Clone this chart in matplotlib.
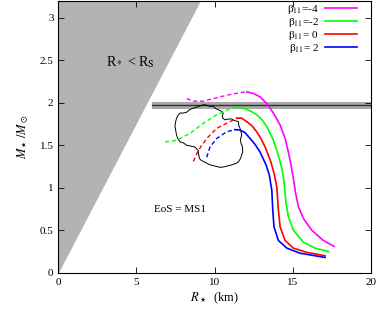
import numpy as np
import matplotlib
matplotlib.use('Agg')
from matplotlib import pyplot as plt

plt.rcParams['font.family'] = ['Liberation Serif', 'DejaVu Serif']
plt.rcParams['mathtext.fontset'] = 'stix'

# beta_11 = -4, -2, 0, 2 : unstable (dashed) and stable (solid) branches
labels = ['β$_{11}$=-4', 'β$_{11}$=-2', 'β$_{11}$= 0', 'β$_{11}$= 2']
colors = ['#ff00ff', '#00ff00', '#ff0000', '#0000ff']

dash_R = [
    [8.22, 8.64, 9.28, 9.92, 10.78, 11.63, 12.06],
    [6.83, 7.57, 8.43, 9.28, 10.14, 11.0, 11.45],
    [8.64, 8.96, 9.5, 10.14, 11.0, 11.45],
    [9.5, 9.71, 10.14, 10.78, 11.3],
]
dash_M = [
    [2.05, 2.02, 2.02, 2.05, 2.09, 2.12, 2.13],
    [1.54, 1.56, 1.64, 1.76, 1.86, 1.93, 1.95],
    [1.31, 1.44, 1.58, 1.70, 1.78, 1.82],
    [1.36, 1.48, 1.58, 1.66, 1.685],
]
solid_R = [
    [12.06, 12.5, 12.92, 13.35, 13.77, 14.2, 14.52, 14.73, 14.9, 15.01, 15.1, 15.2,
     15.37, 15.69, 16.23, 16.97, 17.66],
    [11.45, 11.96, 12.35, 12.7, 13.05, 13.35, 13.77, 14.09, 14.31, 14.4, 14.46, 14.58,
     14.73, 15.05, 15.69, 16.44, 17.3],
    [11.45, 11.74, 12.06, 12.4, 12.7, 13.0, 13.24, 13.6, 13.84, 13.99, 14.09, 14.2,
     14.52, 15.05, 15.91, 17.08],
    [11.3, 11.63, 11.95, 12.28, 12.6, 12.92, 13.3, 13.51, 13.67, 13.73, 13.81, 14.09,
     14.63, 15.48, 17.08],
]
solid_M = [
    [2.13, 2.11, 2.07, 1.99, 1.88, 1.74, 1.58, 1.42, 1.27, 1.15, 1.05, 0.93,
     0.78, 0.64, 0.50, 0.38, 0.31],
    [1.95, 1.93, 1.90, 1.86, 1.80, 1.72, 1.56, 1.38, 1.23, 1.14, 1.05, 0.82,
     0.66, 0.50, 0.36, 0.29, 0.25],
    [1.82, 1.82, 1.78, 1.73, 1.66, 1.57, 1.48, 1.31, 1.15, 1.01, 0.74, 0.54,
     0.38, 0.29, 0.24, 0.20],
    [1.685, 1.68, 1.65, 1.58, 1.51, 1.42, 1.27, 1.15, 0.97, 0.74, 0.54, 0.38,
     0.29, 0.23, 0.18],
]

# closed contour
blob_R = [9.5, 9.7, 9.92, 10.1, 10.35, 10.45, 10.56, 10.5, 10.53, 10.67, 10.9, 11.1,
          11.3, 11.53, 11.55, 11.63, 11.7, 11.74, 11.66, 11.7, 11.78, 11.81, 11.72,
          11.68, 11.55, 11.42, 11.25, 11.1, 10.9, 10.67, 10.4, 10.14, 9.95, 9.71, 9.5,
          9.28, 9.1, 9.03, 8.98, 8.96, 8.85, 8.75, 8.5, 8.22, 8.0, 7.79, 7.65, 7.57,
          7.52, 7.47, 7.5, 7.57, 7.65, 7.79, 8.0, 8.22, 8.4, 8.54, 8.7, 8.86, 9.0,
          9.18, 9.35, 9.5]
blob_M = [1.97, 1.96, 1.96, 1.93, 1.91, 1.90, 1.88, 1.85, 1.82, 1.80, 1.81, 1.81,
          1.79, 1.78, 1.74, 1.70, 1.66, 1.62, 1.57, 1.52, 1.49, 1.42, 1.38,
          1.35, 1.31, 1.29, 1.28, 1.27, 1.26, 1.25, 1.24, 1.25, 1.26, 1.27, 1.29,
          1.31, 1.33, 1.35, 1.40, 1.44, 1.46, 1.48, 1.49, 1.50, 1.53, 1.54, 1.58, 1.62,
          1.67, 1.72, 1.77, 1.82, 1.85, 1.88, 1.88, 1.89, 1.92, 1.93, 1.94, 1.95, 1.96,
          1.97, 1.98, 1.97]

M_obs, M_err = 1.97, 0.04
R_obs_lo = 6.0
schw = 2.84  # R = schw * M

fig = plt.figure(figsize=(3.79, 3.11), dpi=100)
ax = fig.add_axes([0.154, 0.123, 0.824, 0.874])

Mgrid = np.array([0, 3.2])
ax.fill_betweenx(Mgrid, 0, schw * Mgrid, color='#b3b3b3', lw=0)
ax.fill_between([R_obs_lo, 20], M_obs - M_err, M_obs + M_err, color='#aaaaaa', lw=0)
ax.plot([R_obs_lo, 20], [M_obs, M_obs], color='#333333', lw=1.0)

ax.plot(blob_R, blob_M, color='black', lw=0.7)
for i in range(4):
    ax.plot(dash_R[i], dash_M[i], color=colors[i], lw=1.0, ls=(0, (3, 2)))
    ax.plot(solid_R[i], solid_M[i], color=colors[i], lw=1.2, label=labels[i])

ax.text(4.6, 2.48, r'R$_*$ < R$_\mathrm{S}$', fontsize=10, ha='center', va='center')
ax.text(7.8, 0.74, 'EoS = MS1', fontsize=8, ha='center', va='center')

ax.legend(loc='upper right', markerfirst=False, frameon=False, fontsize=8,
          handlelength=2.8, labelspacing=0.0, borderaxespad=0.0, borderpad=0.15,
          handletextpad=0.6, bbox_to_anchor=(0.96, 1.0))

ax.set_xlim(0, 20)
ax.set_ylim(0, 3.2)
ax.set_xticks([0, 5, 10, 15, 20])
ax.set_yticks([0, 0.5, 1, 1.5, 2, 2.5, 3])
ax.set_yticklabels(['0', '0.5', '1', '1.5', '2', '2.5', '3'])
ax.tick_params(direction='in', top=True, right=True, labelsize=8, length=4, width=0.6)
for s in ax.spines.values():
    s.set_linewidth(0.8)
ax.set_xlabel(r'$R_\star$  (km)', fontsize=9, labelpad=3)
ax.set_ylabel(r'$M_\star\,/M_\odot$', fontsize=9, labelpad=6)

fig.savefig('out.png', dpi=100)
